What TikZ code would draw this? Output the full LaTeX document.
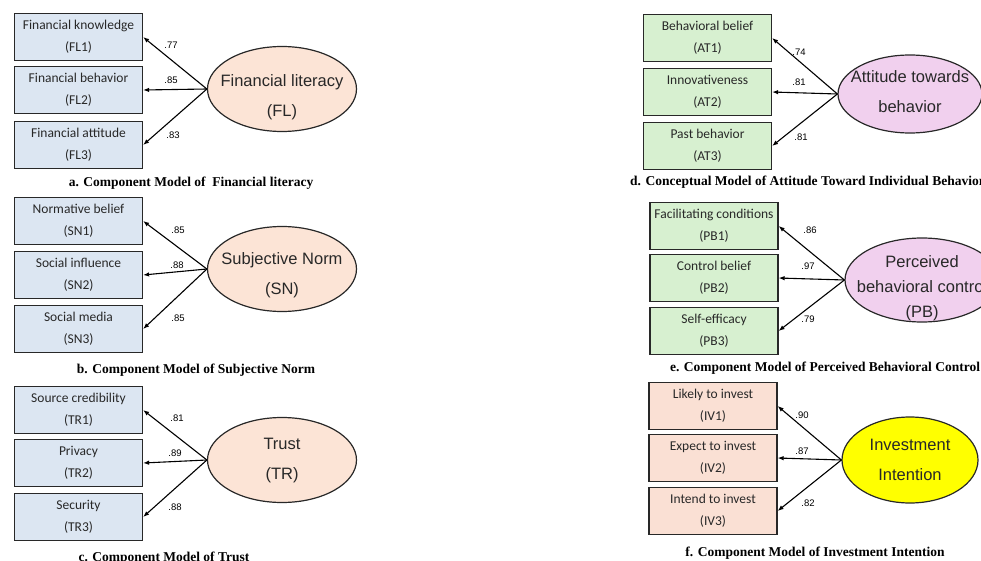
\documentclass[tikz,border=0pt]{standalone}
\usepackage{fontspec}
\setmainfont{Liberation Serif}
\newfontfamily\itemfont{Carlito}
\newfontfamily\arialfont{Liberation Sans}
\definecolor{smblue}{RGB}{220,230,242}
\definecolor{smgreen}{RGB}{215,240,208}
\definecolor{smpink}{RGB}{250,224,212}
\definecolor{smpeach}{RGB}{252,228,214}
\definecolor{smlilac}{RGB}{241,208,238}
\definecolor{smyellow}{RGB}{255,255,0}
\definecolor{smedge}{RGB}{40,40,40}
\definecolor{smtext}{RGB}{40,40,40}
\usetikzlibrary{arrows.meta,shapes.geometric}

\begin{document}
\begin{tikzpicture}[x=1pt,y=-1pt,
  indbox/.style={draw=smedge,line width=1.2pt,minimum width=128pt,minimum height=47pt,
        inner sep=0pt,align=center,text=smtext,font={\itemfont\fontsize{13.5}{22}\selectfont}},
  latent/.style={ellipse,draw=smedge,line width=1.2pt,inner sep=0pt,
        minimum width=149pt,minimum height=85pt},
  lattext/.style={align=center,text=smtext,font={\arialfont\fontsize{16.5}{30}\selectfont}},
  wlbl/.style={inner sep=0pt,font={\arialfont\fontsize{9.5}{10}\selectfont}},
  loading/.style={line width=1.1pt,-{Latex[length=6pt,width=4.5pt]}},
  captxt/.style={inner sep=0pt,font={\bfseries\fontsize{13.5}{15}\selectfont}}]
  \useasboundingbox (0,0) rectangle (981,561);
  \clip (0,0) rectangle (981,561);

  % a. Financial literacy
  \node[indbox,fill=smblue] (fl1) at (78.5,37) {Financial knowledge\\(FL1)};
  \node[indbox,fill=smblue] (fl2) at (78.5,90) {Financial behavior\\(FL2)};
  \node[indbox,fill=smblue] (fl3) at (78.5,145) {Financial attitude\\(FL3)};
  \node[latent,fill=smpeach,label={[lattext,yshift=-8pt]center:Financial literacy\\(FL)}]
        (fl) at (282,89) {};
  \draw[loading] (fl.west) -- (fl1.east);
  \draw[loading] (fl.west) -- (fl2.east);
  \draw[loading] (fl.west) -- (fl3.east);
  \node[wlbl] (wfl1) at (171,45) {.77};
  \node[wlbl] (wfl2) at (171,80) {.85};
  \node[wlbl] (wfl3) at (173,135) {.83};
  \node[captxt] (capa) at (191,183) {a. Component Model of ~Financial literacy};

  % b. Subjective norm
  \node[indbox,fill=smblue] (sn1) at (78.5,221) {Normative belief\\(SN1)};
  \node[indbox,fill=smblue] (sn2) at (78.5,275) {Social influence\\(SN2)};
  \node[indbox,fill=smblue] (sn3) at (78.5,329) {Social media\\(SN3)};
  \node[latent,fill=smpeach,label={[lattext,yshift=-6pt]center:Subjective Norm\\(SN)}]
        (sn) at (282,269) {};
  \draw[loading] (sn.west) -- (sn1.east);
  \draw[loading] (sn.west) -- (sn2.east);
  \draw[loading] (sn.west) -- (sn3.east);
  \node[wlbl] (wsn1) at (178,230) {.85};
  \node[wlbl] (wsn2) at (177,265) {.88};
  \node[wlbl] (wsn3) at (178,318) {.85};
  \node[captxt] (capb) at (196,370) {b. Component Model of Subjective Norm};

  % c. Trust
  \node[indbox,fill=smblue] (tr1) at (78.5,410) {Source credibility\\(TR1)};
  \node[indbox,fill=smblue] (tr2) at (78.5,463) {Privacy\\(TR2)};
  \node[indbox,fill=smblue] (tr3) at (78.5,517) {Security\\(TR3)};
  \node[latent,fill=smpeach,label={[lattext,yshift=-1pt]center:Trust\\(TR)}]
        (tr) at (282,460) {};
  \draw[loading] (tr.west) -- (tr1.east);
  \draw[loading] (tr.west) -- (tr2.east);
  \draw[loading] (tr.west) -- (tr3.east);
  \node[wlbl] (wtr1) at (177,418) {.81};
  \node[wlbl] (wtr2) at (175,453) {.89};
  \node[wlbl] (wtr3) at (175,507) {.88};
  \node[captxt] (capc) at (164,558) {c. Component Model of Trust};

  % d. Attitude towards behavior
  \node[indbox,fill=smgreen] (at1) at (707.5,38) {Behavioral belief\\(AT1)};
  \node[indbox,fill=smgreen] (at2) at (707.5,92) {Innovativeness\\(AT2)};
  \node[indbox,fill=smgreen] (at3) at (707.5,146) {Past behavior\\(AT3)};
  \node[latent,fill=smlilac,minimum width=144pt,minimum height=78pt,
        label={[lattext,yshift=2pt]center:Attitude towards\\behavior}]
        (at) at (910,94) {};
  \draw[loading] (at.west) -- (at1.east);
  \draw[loading] (at.west) -- (at2.east);
  \draw[loading] (at.west) -- (at3.east);
  \node[wlbl] (wat1) at (799,52) {.74};
  \node[wlbl] (wat2) at (799,82) {.81};
  \node[wlbl] (wat3) at (801,137) {.81};
  \node[captxt,anchor=west] (capd) at (630,182)
        {d. Conceptual Model of Attitude Toward Individual Behavior};

  % e. Perceived behavioral control
  \node[indbox,fill=smgreen] (pb1) at (714,226) {Facilitating conditions\\(PB1)};
  \node[indbox,fill=smgreen] (pb2) at (714,278) {Control belief\\(PB2)};
  \node[indbox,fill=smgreen] (pb3) at (714,331) {Self-efficacy\\(PB3)};
  \node[latent,fill=smlilac,minimum width=154pt,minimum height=84pt,
        label={[lattext,font={\arialfont\fontsize{16.5}{25}\selectfont},yshift=-8pt]center:Perceived\\behavioral control\\(PB)}]
        (pb) at (922,280) {};
  \draw[loading] (pb.west) -- (pb1.east);
  \draw[loading] (pb.west) -- (pb2.east);
  \draw[loading] (pb.west) -- (pb3.east);
  \node[wlbl] (wpb1) at (810,230) {.86};
  \node[wlbl] (wpb2) at (808,266) {.97};
  \node[wlbl] (wpb3) at (808,319) {.79};
  \node[captxt] (cape) at (825,368) {e. Component Model of Perceived Behavioral Control};

  % f. Investment intention
  \node[indbox,fill=smpink] (iv1) at (713,406) {Likely to invest\\(IV1)};
  \node[indbox,fill=smpink] (iv2) at (713,458) {Expect to invest\\(IV2)};
  \node[indbox,fill=smpink] (iv3) at (713,511) {Intend to invest\\(IV3)};
  \node[latent,fill=smyellow,minimum width=136pt,minimum height=86pt,
        label={[lattext]center:Investment\\Intention}]
        (iv) at (910,460) {};
  \draw[loading] (iv.west) -- (iv1.east);
  \draw[loading] (iv.west) -- (iv2.east);
  \draw[loading] (iv.west) -- (iv3.east);
  \node[wlbl] (wiv1) at (802,415) {.90};
  \node[wlbl] (wiv2) at (802,451) {.87};
  \node[wlbl] (wiv3) at (808,503) {.82};
  \node[captxt] (capf) at (815,553) {f. Component Model of Investment Intention};
\end{tikzpicture}
\end{document}
